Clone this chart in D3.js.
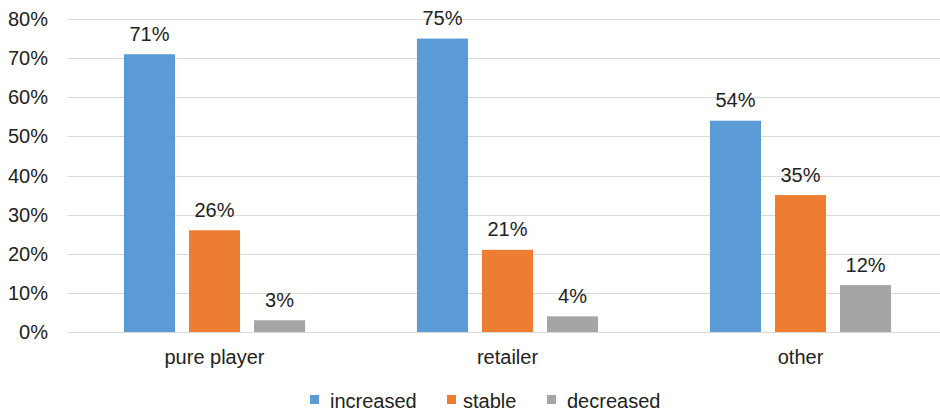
<!DOCTYPE html>
<html>
<head>
<meta charset="utf-8">
<script src="https://cdn.jsdelivr.net/npm/d3@7"></script>
<style>
  body { margin: 0; background: #fff; }
  text { font-family: "Liberation Sans", Arial, sans-serif; fill: #222; }
</style>
</head>
<body>
<div id="chart"></div>
<script>
(function(){
  // chart data
  const categories = ["pure player", "retailer", "other"];
  const seriesNames = ["increased", "stable", "decreased"];
  const increased = [71, 75, 54];
  const stable = [26, 21, 35];
  const decreased = [3, 4, 12];
  const yTicks = [0, 10, 20, 30, 40, 50, 60, 70, 80];

  const colors = ["#5B9BD5", "#ED7D31", "#A5A5A5"];
  const seriesValues = [increased, stable, decreased];

  const width = 940, height = 412;
  const plot = { left: 68, right: 947, top: 19, bottom: 332 };
  const fontSize = "20px";

  const svg = d3.select("#chart").append("svg")
      .attr("width", width)
      .attr("height", height);

  const x0 = d3.scaleBand()
      .domain(categories)
      .range([plot.left, plot.right])
      .paddingInner(0)
      .paddingOuter(0);

  const x1 = d3.scaleBand()
      .domain(seriesNames)
      .range([0, x0.bandwidth()])
      .paddingInner(0.215)
      .paddingOuter(0.86);

  const y = d3.scaleLinear()
      .domain([0, 80])
      .range([plot.bottom, plot.top]);

  // gridlines
  svg.append("g")
      .selectAll("line")
      .data(yTicks)
      .join("line")
      .attr("x1", plot.left)
      .attr("x2", width)
      .attr("y1", d => Math.round(y(d)) + 0.5)
      .attr("y2", d => Math.round(y(d)) + 0.5)
      .attr("stroke", "#d9d9d9")
      .attr("stroke-width", 1);

  // y tick labels
  svg.append("g")
      .selectAll("text")
      .data(yTicks)
      .join("text")
      .attr("x", 48)
      .attr("y", d => y(d))
      .attr("dy", "0.35em")
      .attr("text-anchor", "end")
      .style("font-size", fontSize)
      .text(d => d + "%");

  // bars per category
  const groups = svg.append("g")
      .selectAll("g")
      .data(categories)
      .join("g")
      .attr("transform", d => `translate(${x0(d)},0)`);

  const cells = groups.selectAll("g")
      .data((c, ci) => seriesNames.map((s, si) => ({ series: s, si: si, value: seriesValues[si][ci] })))
      .join("g");

  cells.append("rect")
      .attr("x", d => x1(d.series))
      .attr("y", d => y(d.value))
      .attr("width", x1.bandwidth())
      .attr("height", d => y(0) - y(d.value))
      .attr("fill", d => colors[d.si]);

  cells.append("text")
      .attr("x", d => x1(d.series) + x1.bandwidth() / 2)
      .attr("y", d => y(d.value) - 13.5)
      .attr("text-anchor", "middle")
      .style("font-size", fontSize)
      .text(d => d.value + "%");

  // category labels
  svg.append("g")
      .selectAll("text")
      .data(categories)
      .join("text")
      .attr("x", d => x0(d) + x0.bandwidth() / 2)
      .attr("y", 364)
      .attr("text-anchor", "middle")
      .style("font-size", fontSize)
      .text(d => d);

  // legend
  const legendX = [310, 447, 547];
  const legend = svg.append("g")
      .selectAll("g")
      .data(seriesNames)
      .join("g")
      .attr("transform", (d, i) => `translate(${legendX[i]},0)`);

  legend.append("rect")
      .attr("x", 0)
      .attr("y", 395)
      .attr("width", 9)
      .attr("height", 9)
      .attr("fill", (d, i) => colors[i]);

  legend.append("text")
      .attr("x", (d, i) => i === 1 ? 16 : 20)
      .attr("y", 408)
      .style("font-size", fontSize)
      .text(d => d);
})();
</script>
</body>
</html>
